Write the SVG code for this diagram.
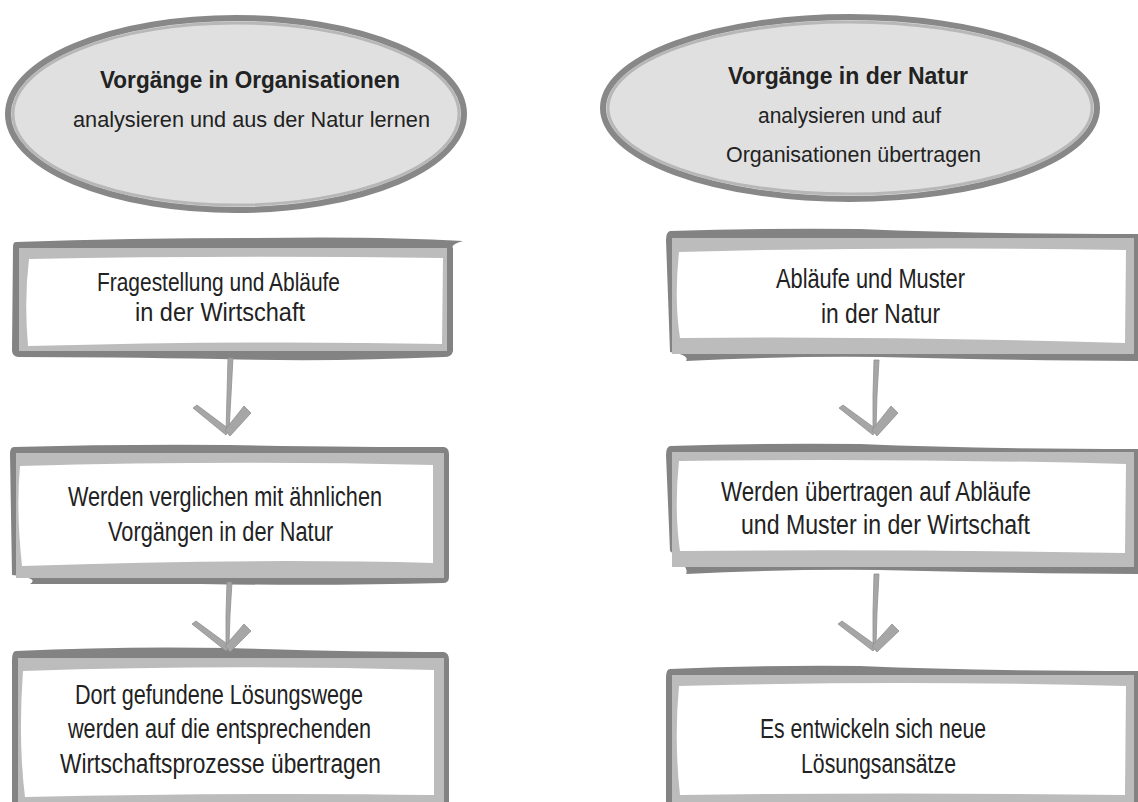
<svg xmlns="http://www.w3.org/2000/svg" width="1138" height="802" viewBox="0 0 1138 802">
<style>
.bg{fill:#ffffff}
.ell{fill:#e0e0e0;stroke:#888888;stroke-width:6}
.ellin{fill:none;stroke:#b7b7b7;stroke-width:3}
.dark{fill:#838383}
.light{fill:#bcbcbc}
.white{fill:#ffffff}
.t{font-family:"Liberation Sans",Arial,sans-serif;fill:#222222}
.et{font-size:22px}
.eb{font-size:23px;font-weight:bold}
.bt{font-size:27px}
.bs{font-size:25px}
.arr{fill:#a6a6a6;stroke:#909090;stroke-width:0.8;stroke-linejoin:round}
</style>
<rect class="bg" x="0" y="0" width="1138" height="802"/>

<g id="ellipse-left">
<ellipse class="ell" cx="236" cy="114" rx="228" ry="96"/>
<ellipse class="ellin" cx="236" cy="114" rx="223" ry="91"/>
<text class="t eb" x="100" y="88" textLength="300" lengthAdjust="spacingAndGlyphs">Vorgänge in Organisationen</text>
<text class="t et" x="73" y="127" textLength="357" lengthAdjust="spacingAndGlyphs">analysieren und aus der Natur lernen</text>
</g>

<g id="ellipse-right">
<ellipse class="ell" cx="850" cy="108" rx="247" ry="91"/>
<ellipse class="ellin" cx="850" cy="108" rx="242" ry="86"/>
<text class="t eb" x="728" y="84" textLength="240" lengthAdjust="spacingAndGlyphs">Vorgänge in der Natur</text>
<text class="t et" x="758" y="123" textLength="183" lengthAdjust="spacingAndGlyphs">analysieren und auf</text>
<text class="t et" x="726" y="162" textLength="255" lengthAdjust="spacingAndGlyphs">Organisationen übertragen</text>
</g>

<g id="box-left-1">
<path class="dark" d="M16,242 Q130,238 250,238 Q380,236 463,241 Q450,245 453,248 L453,351 Q452,357 444,357 Q330,362 220,359 Q110,357 18,357 Q12,356 12,350 L13,247 Q13,242 16,242 Z"/>
<path class="light" d="M19,248 L447,248 L447,351 L19,351 Z"/>
<path class="white" d="M29,259 Q230,255 443,258 L442,344 Q250,340 28,346 Q24,300 29,259 Z"/>
<text class="t bs" x="97" y="291" textLength="243" lengthAdjust="spacingAndGlyphs">Fragestellung und Abläufe</text>
<text class="t bs" x="135" y="321" textLength="170" lengthAdjust="spacingAndGlyphs">in der Wirtschaft</text>
</g>

<g id="box-left-2">
<path class="dark" d="M14,447 Q120,444 230,445 Q350,447 444,447 Q449,448 449,454 L449,577 Q449,583 443,583 Q330,586 200,584 Q110,584 30,584 Q40,578 12,575 L10,454 Q10,447 14,447 Z"/>
<path class="light" d="M16,453 L444,453 L444,578 L16,578 Z"/>
<path class="white" d="M20,466 Q230,460 433,465 L433,563 Q250,558 22,566 Q16,510 20,466 Z"/>
<text class="t bt" x="68" y="506" textLength="314" lengthAdjust="spacingAndGlyphs">Werden verglichen mit ähnlichen</text>
<text class="t bt" x="108" y="541" textLength="225" lengthAdjust="spacingAndGlyphs">Vorgängen in der Natur</text>
</g>

<g id="box-left-3">
<path class="dark" d="M16,651 Q120,646 230,648 Q350,652 444,652 Q449,653 449,660 L449,812 L12,812 L12,660 Q12,651 16,651 Z"/>
<path class="light" d="M18,658 L444,658 L444,812 L18,812 Z"/>
<path class="white" d="M23,671 Q230,664 434,670 L434,795 Q250,792 25,797 Q18,740 23,671 Z"/>
<text class="t bt" x="75" y="704" textLength="288" lengthAdjust="spacingAndGlyphs">Dort gefundene Lösungswege</text>
<text class="t bt" x="68" y="738" textLength="303" lengthAdjust="spacingAndGlyphs">werden auf die entsprechenden</text>
<text class="t bt" x="60" y="773" textLength="321" lengthAdjust="spacingAndGlyphs">Wirtschaftsprozesse übertragen</text>
</g>

<g id="box-right-1">
<path class="dark" d="M670,231 Q760,228 860,229 Q980,234 1140,234 L1140,361 Q1000,360 880,357 Q780,356 686,361 Q690,355 670,352 L666,240 Q666,232 670,231 Z"/>
<path class="light" d="M672,238 L1134,238 L1134,354 L672,354 Z"/>
<path class="white" d="M679,252 Q900,246 1126,250 L1125,343 Q900,336 680,338 Q674,300 679,252 Z"/>
<text class="t bt" x="776" y="288" textLength="189" lengthAdjust="spacingAndGlyphs">Abläufe und Muster</text>
<text class="t bt" x="821" y="323" textLength="119" lengthAdjust="spacingAndGlyphs">in der Natur</text>
</g>

<g id="box-right-2">
<path class="dark" d="M670,446 Q760,443 860,444 Q980,449 1140,449 L1140,574 Q1000,573 880,570 Q780,569 686,574 Q690,568 670,551 L666,455 Q666,447 670,446 Z"/>
<path class="light" d="M672,452 L1134,452 L1134,567 L672,567 Z"/>
<path class="white" d="M679,461 Q900,458 1126,464 L1125,553 Q900,549 680,551 Q674,510 679,461 Z"/>
<text class="t bt" x="721" y="501" textLength="310" lengthAdjust="spacingAndGlyphs">Werden übertragen auf Abläufe</text>
<text class="t bt" x="741" y="534" textLength="289" lengthAdjust="spacingAndGlyphs">und Muster in der Wirtschaft</text>
</g>

<g id="box-right-3">
<path class="dark" d="M670,669 Q760,665 860,666 Q980,671 1140,671 L1140,812 L666,812 L666,678 Q666,669 670,669 Z"/>
<path class="light" d="M672,675 L1134,675 L1134,812 L672,812 Z"/>
<path class="white" d="M679,686 Q900,680 1126,686 L1125,795 Q900,792 680,795 Q674,740 679,686 Z"/>
<text class="t bt" x="760" y="738" textLength="226" lengthAdjust="spacingAndGlyphs">Es entwickeln sich neue</text>
<text class="t bt" x="801" y="773" textLength="155" lengthAdjust="spacingAndGlyphs">Lösungsansätze</text>
</g>

<g id="connectors">
<g id="arrow-left-1">
<polygon class="arr" points="228,358 233,358 231,395 229,432 226,432 227,395"/>
<polygon class="arr" points="193,408 197,405 229,429 226,435"/>
<polygon class="arr" points="244,406 251,413 230,436 225,430"/>
</g>
<g id="arrow-left-2">
<polygon class="arr" points="227,582 232,582 230,615 229,646 226,646 226,615"/>
<polygon class="arr" points="192,624 196,621 230,646 226,651"/>
<polygon class="arr" points="244,624 251,631 230,652 225,646"/>
</g>
<g id="arrow-right-1">
<polygon class="arr" points="874,360 879,360 877,395 876,430 873,430 873,395"/>
<polygon class="arr" points="839,408 843,405 876,429 873,435"/>
<polygon class="arr" points="891,406 898,413 877,436 872,430"/>
</g>
<g id="arrow-right-2">
<polygon class="arr" points="874,574 879,574 877,612 876,646 873,646 873,612"/>
<polygon class="arr" points="838,624 842,621 877,646 873,651"/>
<polygon class="arr" points="892,624 899,631 877,652 872,646"/>
</g>
</g>
</svg>
